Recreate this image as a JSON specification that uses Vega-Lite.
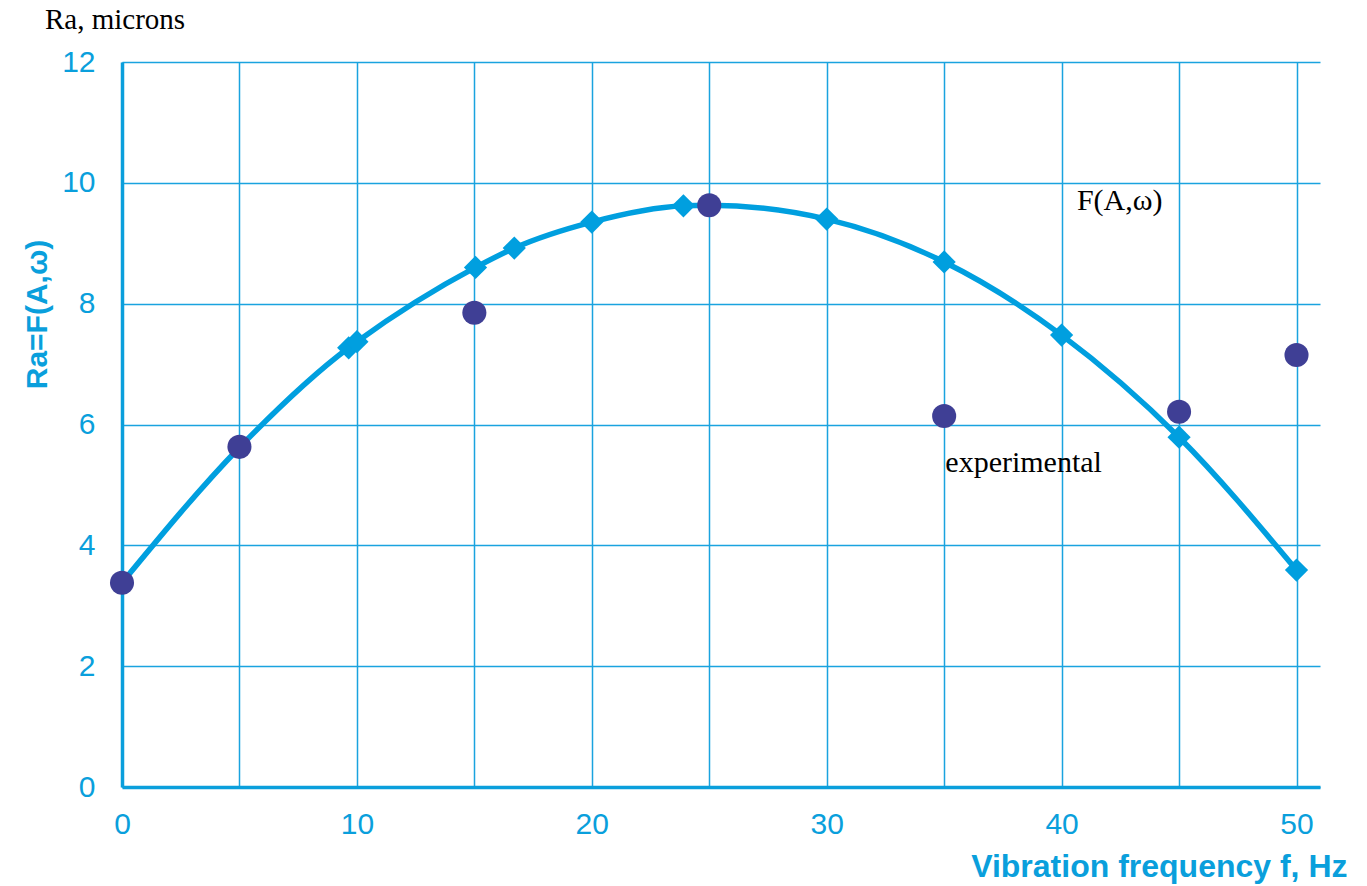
{
  "$schema": "https://vega.github.io/schema/vega-lite/v6.json",
  "autosize": {"type": "none"},
  "width": 1198,
  "height": 725,
  "padding": {"left": 122, "top": 62, "right": 47, "bottom": 99},
  "background": "white",
  "config": {"view": {"stroke": null}, "font": "Liberation Sans"},
  "title": {
    "text": "Ra, microns",
    "font": "Liberation Serif",
    "fontSize": 29,
    "fontWeight": "normal",
    "color": "black",
    "anchor": "start",
    "frame": "group",
    "dx": -77,
    "offset": 12
  },
  "datasets": {
    "curve": [
      {"f": 0, "ra": 3.38},
      {"f": 5, "ra": 5.62},
      {"f": 9.65, "ra": 7.27},
      {"f": 10, "ra": 7.37},
      {"f": 15.05, "ra": 8.6},
      {"f": 16.7, "ra": 8.92},
      {"f": 20, "ra": 9.35},
      {"f": 23.9, "ra": 9.62},
      {"f": 25, "ra": 9.63},
      {"f": 30, "ra": 9.4},
      {"f": 35, "ra": 8.69},
      {"f": 40, "ra": 7.48},
      {"f": 45, "ra": 5.79},
      {"f": 50, "ra": 3.59}
    ],
    "experimental": [
      {"f": 0, "ra": 3.38},
      {"f": 5, "ra": 5.63},
      {"f": 15, "ra": 7.85},
      {"f": 25, "ra": 9.63},
      {"f": 35, "ra": 6.14},
      {"f": 45, "ra": 6.21},
      {"f": 50, "ra": 7.15}
    ],
    "notes": [
      {"f": 40.65, "ra": 9.55, "label": "F(A,ω)"},
      {"f": 35.05, "ra": 5.21, "label": "experimental"}
    ]
  },
  "layer": [
    {
      "data": {"name": "curve"},
      "mark": {"type": "line", "interpolate": "monotone", "color": "#009FDF", "strokeWidth": 5.5},
      "encoding": {
        "x": {
          "field": "f",
          "type": "quantitative",
          "scale": {"domain": [0, 51], "nice": false},
          "axis": {
            "values": [0, 5, 10, 15, 20, 25, 30, 35, 40, 45, 50],
            "labelExpr": "datum.value % 10 === 0 ? datum.label : ''",
            "labelFlush": false,
            "labelOverlap": false,
            "grid": true,
            "gridColor": "#1AA3DF",
            "gridWidth": 1.5,
            "ticks": false,
            "domainColor": "#0A9FDC",
            "domainWidth": 3.5,
            "labelColor": "#0A9FDC",
            "labelFont": "Liberation Sans",
            "labelFontSize": 30,
            "labelPadding": 22,
            "title": "Vibration frequency f, Hz",
            "titleFont": "Liberation Sans",
            "titleFontSize": 32,
            "titleFontWeight": "bold",
            "titleColor": "#0A9FDC",
            "titleAnchor": "end",
            "titleAlign": "right",
            "titleBaseline": "middle",
            "titleX": 1225,
            "titleY": 79
          }
        },
        "y": {
          "field": "ra",
          "type": "quantitative",
          "scale": {"domain": [0, 12], "nice": false},
          "axis": {
            "values": [0, 2, 4, 6, 8, 10, 12],
            "format": "d",
            "grid": true,
            "gridColor": "#1AA3DF",
            "gridWidth": 1.5,
            "ticks": false,
            "domainColor": "#0A9FDC",
            "domainWidth": 3.5,
            "labelColor": "#0A9FDC",
            "labelFont": "Liberation Sans",
            "labelFontSize": 30,
            "labelPadding": 27,
            "labelOverlap": false,
            "labelFlush": false,
            "title": "Ra=F(A,ω)",
            "titleFont": "Liberation Sans",
            "titleFontSize": 30,
            "titleFontWeight": "bold",
            "titleColor": "#0A9FDC",
            "titleAngle": -90,
            "titleAlign": "center",
            "titleBaseline": "middle",
            "titleX": -85,
            "titleY": 252
          }
        }
      }
    },
    {
      "data": {"name": "curve"},
      "mark": {"type": "point", "shape": "diamond", "filled": true, "size": 540, "color": "#009FDF", "opacity": 1},
      "encoding": {
        "x": {"field": "f", "type": "quantitative"},
        "y": {"field": "ra", "type": "quantitative"}
      }
    },
    {
      "data": {"name": "experimental"},
      "mark": {"type": "circle", "size": 580, "color": "#3F3F95", "opacity": 1},
      "encoding": {
        "x": {"field": "f", "type": "quantitative"},
        "y": {"field": "ra", "type": "quantitative"}
      }
    },
    {
      "data": {"name": "notes"},
      "mark": {"type": "text", "align": "left", "baseline": "alphabetic", "font": "Liberation Serif", "fontSize": 30, "color": "black"},
      "encoding": {
        "x": {"field": "f", "type": "quantitative"},
        "y": {"field": "ra", "type": "quantitative"},
        "text": {"field": "label"}
      }
    }
  ]
}
